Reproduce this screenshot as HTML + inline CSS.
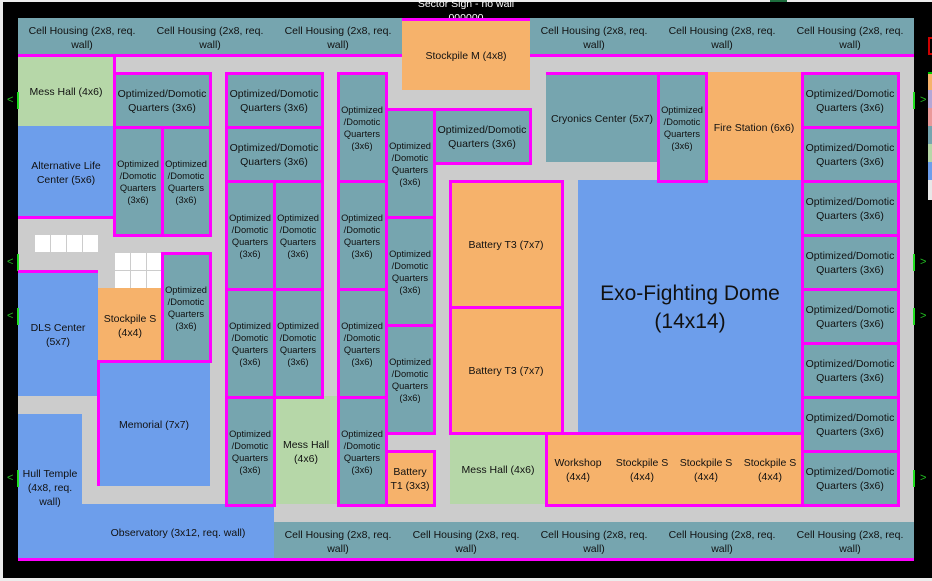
<!DOCTYPE html>
<html><head><meta charset="utf-8"><style>
body{margin:0;width:932px;height:581px;background:#000;position:relative;overflow:hidden;font-family:"Liberation Sans",Arial,sans-serif}
.a{position:absolute}
.r{position:absolute;box-sizing:border-box;padding-top:4px;display:flex;align-items:center;justify-content:center;text-align:center;color:#111;font-size:10.5px;line-height:14px}
.r span{white-space:nowrap}
.t{background:#76a5af}.g{background:#b6d7a8}.bl{background:#6d9eeb}.o{background:#f6b26b}
.b::after{content:"";position:absolute;left:-1px;top:0;right:-2px;bottom:-3px;border:3px solid #ff00ff;z-index:5}
.n{font-size:9.3px;line-height:12px}
.m{position:absolute;background:#ff00ff;z-index:5}
.w{position:absolute;background:#fff;width:15px;height:17px}
.lb{position:absolute;left:17px;width:2px;height:17px;background:#22e022}
.lg{position:absolute;left:7px;font-size:11px;line-height:11px;color:#22c022}
.rb{position:absolute;left:913px;width:2px;height:17px;background:#22e022}
.rg{position:absolute;left:920px;font-size:11px;line-height:11px;color:#22c022}
</style></head><body>

<!-- spreadsheet chrome -->
<div class="a" style="left:0;top:0;width:932px;height:2px;background:#ececec"></div>
<div class="a" style="left:0;top:0;width:3px;height:581px;background:#ececec"></div>
<div class="a" style="left:0;top:578px;width:932px;height:3px;background:#ececec"></div>
<div class="a" style="left:770px;top:0;width:17px;height:2px;background:#1e6e3e"></div>

<!-- right swatches -->
<div class="a" style="left:928px;top:37px;width:4px;height:18px;border:2px solid #cc0000;border-right:none;box-sizing:border-box"></div>
<div class="a" style="left:928px;top:72px;width:4px;height:2px;background:#00cc00"></div>
<div class="a" style="left:928px;top:74px;width:4px;height:16px;background:#f6b26b"></div>
<div class="a" style="left:928px;top:90px;width:4px;height:18px;background:#b4a7d6"></div>
<div class="a" style="left:928px;top:108px;width:4px;height:18px;background:#ea9999"></div>
<div class="a" style="left:928px;top:126px;width:4px;height:18px;background:#76a5af"></div>
<div class="a" style="left:928px;top:144px;width:4px;height:18px;background:#b6d7a8"></div>
<div class="a" style="left:928px;top:162px;width:4px;height:18px;background:#6d9eeb"></div>
<div class="a" style="left:928px;top:180px;width:4px;height:20px;background:#e8e8e8"></div>

<!-- sector sign text -->
<div class="a" style="left:380px;top:-3px;width:172px;text-align:center;color:#fff;font-size:10.5px;line-height:14px">Sector Sign - no wall<br>000000</div>

<!-- grey corridor background -->
<div class="a" style="left:18px;top:18px;width:896px;height:540px;background:#cccccc"></div>

<!-- top cell housings -->
<div class="r t" style="left:18px;top:18px;width:128px;height:36px"><span>Cell Housing (2x8, req.<br>wall)</span></div>
<div class="r t" style="left:146px;top:18px;width:128px;height:36px"><span>Cell Housing (2x8, req.<br>wall)</span></div>
<div class="r t" style="left:274px;top:18px;width:128px;height:36px"><span>Cell Housing (2x8, req.<br>wall)</span></div>
<div class="r o" style="left:402px;top:18px;width:128px;height:72px"><span>Stockpile M (4x8)</span></div>
<div class="r t" style="left:530px;top:18px;width:128px;height:36px"><span>Cell Housing (2x8, req.<br>wall)</span></div>
<div class="r t" style="left:658px;top:18px;width:128px;height:36px"><span>Cell Housing (2x8, req.<br>wall)</span></div>
<div class="r t" style="left:786px;top:18px;width:128px;height:36px"><span>Cell Housing (2x8, req.<br>wall)</span></div>

<!-- left side -->
<div class="r g" style="left:18px;top:54px;width:96px;height:72px"><span>Mess Hall (4x6)</span></div>
<div class="r bl" style="left:18px;top:126px;width:96px;height:90px"><span>Alternative Life<br>Center (5x6)</span></div>
<div class="w" style="left:35px;top:235px"></div>
<div class="w" style="left:51px;top:235px"></div>
<div class="w" style="left:67px;top:235px"></div>
<div class="w" style="left:83px;top:235px"></div>
<div class="w" style="left:115px;top:253px"></div>
<div class="w" style="left:131px;top:253px"></div>
<div class="w" style="left:147px;top:253px"></div>
<div class="w" style="left:115px;top:271px"></div>
<div class="w" style="left:131px;top:271px"></div>
<div class="w" style="left:147px;top:271px"></div>
<div class="r bl" style="left:18px;top:270px;width:80px;height:126px"><span>DLS Center<br>(5x7)</span></div>
<div class="r o" style="left:98px;top:288px;width:64px;height:72px"><span>Stockpile S<br>(4x4)</span></div>
<div class="r bl" style="left:98px;top:360px;width:112px;height:126px"><span>Memorial (7x7)</span></div>
<div class="r bl" style="left:18px;top:414px;width:64px;height:144px"><span>Hull Temple<br>(4x8, req.<br>wall)</span></div>
<div class="r bl" style="left:82px;top:504px;width:192px;height:54px"><span>Observatory (3x12, req. wall)</span></div>

<!-- quarters cols 6-11 -->
<div class="r t b" style="left:114px;top:72px;width:96px;height:54px"><span>Optimized/Domotic<br>Quarters (3x6)</span></div>
<div class="r t b n" style="left:114px;top:126px;width:48px;height:108px"><span>Optimized<br>/Domotic<br>Quarters<br>(3x6)</span></div>
<div class="r t b n" style="left:162px;top:126px;width:48px;height:108px"><span>Optimized<br>/Domotic<br>Quarters<br>(3x6)</span></div>
<div class="r t b n" style="left:162px;top:252px;width:48px;height:108px"><span>Optimized<br>/Domotic<br>Quarters<br>(3x6)</span></div>

<!-- quarters cols 13-18 -->
<div class="r t b" style="left:226px;top:72px;width:96px;height:54px"><span>Optimized/Domotic<br>Quarters (3x6)</span></div>
<div class="r t b" style="left:226px;top:126px;width:96px;height:54px"><span>Optimized/Domotic<br>Quarters (3x6)</span></div>
<div class="r t b n" style="left:226px;top:180px;width:48px;height:108px"><span>Optimized<br>/Domotic<br>Quarters<br>(3x6)</span></div>
<div class="r t b n" style="left:274px;top:180px;width:48px;height:108px"><span>Optimized<br>/Domotic<br>Quarters<br>(3x6)</span></div>
<div class="r t b n" style="left:226px;top:288px;width:48px;height:108px"><span>Optimized<br>/Domotic<br>Quarters<br>(3x6)</span></div>
<div class="r t b n" style="left:274px;top:288px;width:48px;height:108px"><span>Optimized<br>/Domotic<br>Quarters<br>(3x6)</span></div>
<div class="r t b n" style="left:226px;top:396px;width:48px;height:108px"><span>Optimized<br>/Domotic<br>Quarters<br>(3x6)</span></div>
<div class="r g" style="left:274px;top:396px;width:64px;height:108px"><span>Mess Hall<br>(4x6)</span></div>

<!-- quarters cols 20-22 -->
<div class="r t b n" style="left:338px;top:72px;width:48px;height:108px"><span>Optimized<br>/Domotic<br>Quarters<br>(3x6)</span></div>
<div class="r t b n" style="left:338px;top:180px;width:48px;height:108px"><span>Optimized<br>/Domotic<br>Quarters<br>(3x6)</span></div>
<div class="r t b n" style="left:338px;top:288px;width:48px;height:108px"><span>Optimized<br>/Domotic<br>Quarters<br>(3x6)</span></div>
<div class="r t b n" style="left:338px;top:396px;width:48px;height:108px"><span>Optimized<br>/Domotic<br>Quarters<br>(3x6)</span></div>

<!-- quarters cols 23-25 -->
<div class="r t b n" style="left:386px;top:108px;width:48px;height:108px"><span>Optimized<br>/Domotic<br>Quarters<br>(3x6)</span></div>
<div class="r t b n" style="left:386px;top:216px;width:48px;height:108px"><span>Optimized<br>/Domotic<br>Quarters<br>(3x6)</span></div>
<div class="r t b n" style="left:386px;top:324px;width:48px;height:108px"><span>Optimized<br>/Domotic<br>Quarters<br>(3x6)</span></div>
<div class="r o b" style="left:386px;top:450px;width:48px;height:54px"><span>Battery<br>T1 (3x3)</span></div>
<div class="r t b" style="left:434px;top:108px;width:96px;height:54px"><span>Optimized/Domotic<br>Quarters (3x6)</span></div>

<!-- batteries / mess / workshop -->
<div class="r o b" style="left:450px;top:180px;width:112px;height:126px"><span>Battery T3 (7x7)</span></div>
<div class="r o b" style="left:450px;top:306px;width:112px;height:126px"><span>Battery T3 (7x7)</span></div>
<div class="r g" style="left:450px;top:432px;width:96px;height:72px"><span>Mess Hall (4x6)</span></div>
<div class="r o b" style="left:546px;top:432px;width:256px;height:72px"></div>
<div class="r" style="left:546px;top:432px;width:64px;height:72px"><span>Workshop<br>(4x4)</span></div>
<div class="r" style="left:610px;top:432px;width:64px;height:72px"><span>Stockpile S<br>(4x4)</span></div>
<div class="r" style="left:674px;top:432px;width:64px;height:72px"><span>Stockpile S<br>(4x4)</span></div>
<div class="r" style="left:738px;top:432px;width:64px;height:72px"><span>Stockpile S<br>(4x4)</span></div>

<!-- upper right -->
<div class="r t" style="left:546px;top:72px;width:112px;height:90px"><span>Cryonics Center (5x7)</span></div>
<div class="r t b n" style="left:658px;top:72px;width:48px;height:108px"><span>Optimized<br>/Domotic<br>Quarters<br>(3x6)</span></div>
<div class="r o" style="left:706px;top:72px;width:96px;height:108px"><span>Fire Station (6x6)</span></div>
<div class="r bl" style="left:578px;top:180px;width:224px;height:252px;font-size:21px;line-height:28px"><span>Exo-Fighting Dome<br>(14x14)</span></div>

<!-- right quarters column -->
<div class="r t b" style="left:802px;top:72px;width:96px;height:54px"><span>Optimized/Domotic<br>Quarters (3x6)</span></div>
<div class="r t b" style="left:802px;top:126px;width:96px;height:54px"><span>Optimized/Domotic<br>Quarters (3x6)</span></div>
<div class="r t b" style="left:802px;top:180px;width:96px;height:54px"><span>Optimized/Domotic<br>Quarters (3x6)</span></div>
<div class="r t b" style="left:802px;top:234px;width:96px;height:54px"><span>Optimized/Domotic<br>Quarters (3x6)</span></div>
<div class="r t b" style="left:802px;top:288px;width:96px;height:54px"><span>Optimized/Domotic<br>Quarters (3x6)</span></div>
<div class="r t b" style="left:802px;top:342px;width:96px;height:54px"><span>Optimized/Domotic<br>Quarters (3x6)</span></div>
<div class="r t b" style="left:802px;top:396px;width:96px;height:54px"><span>Optimized/Domotic<br>Quarters (3x6)</span></div>
<div class="r t b" style="left:802px;top:450px;width:96px;height:54px"><span>Optimized/Domotic<br>Quarters (3x6)</span></div>

<!-- bottom cell housings -->
<div class="r t" style="left:274px;top:522px;width:128px;height:36px"><span>Cell Housing (2x8, req.<br>wall)</span></div>
<div class="r t" style="left:402px;top:522px;width:128px;height:36px"><span>Cell Housing (2x8, req.<br>wall)</span></div>
<div class="r t" style="left:530px;top:522px;width:128px;height:36px"><span>Cell Housing (2x8, req.<br>wall)</span></div>
<div class="r t" style="left:658px;top:522px;width:128px;height:36px"><span>Cell Housing (2x8, req.<br>wall)</span></div>
<div class="r t" style="left:786px;top:522px;width:128px;height:36px"><span>Cell Housing (2x8, req.<br>wall)</span></div>

<!-- partial magenta walls -->
<div class="m" style="left:18px;top:54px;width:384px;height:3px"></div>
<div class="m" style="left:530px;top:54px;width:384px;height:3px"></div>
<div class="m" style="left:402px;top:18px;width:128px;height:3px"></div>
<div class="m" style="left:113px;top:54px;width:3px;height:72px"></div>
<div class="m" style="left:18px;top:216px;width:96px;height:3px"></div>
<div class="m" style="left:18px;top:270px;width:80px;height:3px"></div>
<div class="m" style="left:97px;top:360px;width:3px;height:126px"></div>
<div class="m" style="left:98px;top:360px;width:64px;height:3px"></div>
<div class="m" style="left:546px;top:72px;width:112px;height:3px"></div>
<div class="m" style="left:18px;top:558px;width:896px;height:3px"></div>

<!-- green markers left -->
<div class="lb" style="top:92px"></div><div class="lg" style="top:95px">&lt;</div>
<div class="lb" style="top:254px"></div><div class="lg" style="top:257px">&lt;</div>
<div class="lb" style="top:308px"></div><div class="lg" style="top:311px">&lt;</div>
<div class="lb" style="top:470px"></div><div class="lg" style="top:473px">&lt;</div>
<!-- green markers right -->
<div class="rb" style="top:92px"></div><div class="rg" style="top:95px">&gt;</div>
<div class="rb" style="top:254px"></div><div class="rg" style="top:257px">&gt;</div>
<div class="rb" style="top:308px"></div><div class="rg" style="top:311px">&gt;</div>
<div class="rb" style="top:470px"></div><div class="rg" style="top:473px">&gt;</div>

</body></html>
